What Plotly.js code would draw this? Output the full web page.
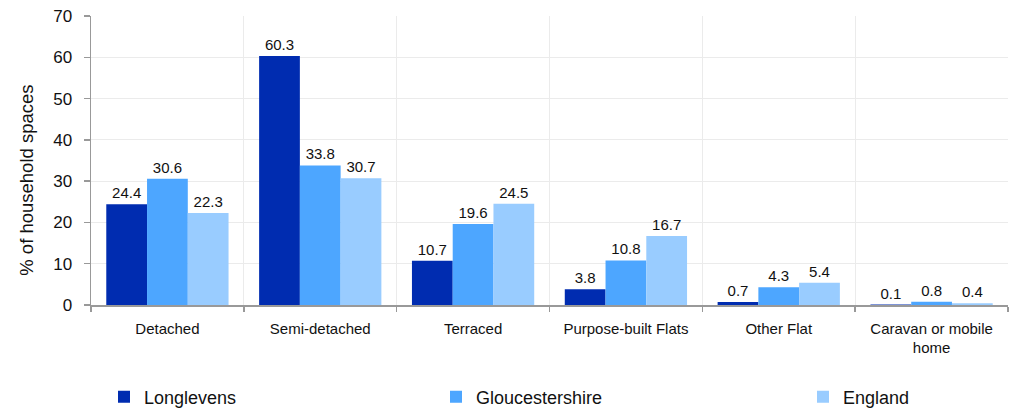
<!DOCTYPE html>
<html>
<head>
<meta charset="utf-8">
<script src="https://cdn.plot.ly/plotly-3.0.1.min.js"></script>
<style>html,body{margin:0;padding:0;background:#fff;}#chart{width:1012px;height:410px;}</style>
</head>
<body>
<div id="chart"></div>
<script>
const categories = ["Detached", "Semi-detached", "Terraced", "Purpose-built Flats", "Other Flat", "Caravan or mobile<br>home"];
const seriesNames = ["Longlevens", "Gloucestershire", "England"];
const longlevens = [24.4, 60.3, 10.7, 3.8, 0.7, 0.1];
const gloucestershire = [30.6, 33.8, 19.6, 10.8, 4.3, 0.8];
const england = [22.3, 30.7, 24.5, 16.7, 5.4, 0.4];
const yTicks = [0, 10, 20, 30, 40, 50, 60, 70];

const colors = ["#002CB0", "#4DA6FF", "#99CCFF"];
const values = [longlevens, gloucestershire, england];
const legendIds = ["legend", "legend2", "legend3"];
const font = "Liberation Sans, Arial, sans-serif";

const traces = values.map((v, i) => ({
  type: "bar",
  name: seriesNames[i],
  x: categories,
  y: v,
  marker: {color: colors[i]},
  text: v.map(d => d.toFixed(1)),
  textposition: "outside",
  textfont: {size: 15, color: "#111", family: font},
  cliponaxis: false,
  legend: legendIds[i],
  hoverinfo: "x+y+name"
}));

function leg(x) {
  return {
    xref: "container", yref: "container",
    x: x, y: 1 - 397 / 410, xanchor: "left", yanchor: "middle",
    orientation: "h", font: {size: 18, color: "#111", family: font},
    bgcolor: "rgba(0,0,0,0)", borderwidth: 0
  };
}

const layout = {
  width: 1012, height: 410,
  margin: {l: 91, r: 4, t: 16, b: 105},
  paper_bgcolor: "#fff", plot_bgcolor: "#fff",
  font: {family: font, color: "#111"},
  barmode: "group",
  bargap: 0.2, bargroupgap: 0,
  showlegend: true,
  legend: leg(104 / 1012),
  legend2: leg(436 / 1012),
  legend3: leg(803 / 1012),
  xaxis: {
    type: "category",
    tickson: "boundaries",
    ticks: "outside", ticklen: 5, tickcolor: "#999", tickwidth: 1.5,
    showline: true, linecolor: "#999", linewidth: 1.5,
    showgrid: true, gridcolor: "#ebebeb", gridwidth: 1,
    tickfont: {size: 15, color: "#111", family: font},
    ticklabelstandoff: 9
  },
  yaxis: {
    range: [0, 70],
    tickvals: yTicks,
    ticks: "outside", ticklen: 6, tickcolor: "#999", tickwidth: 1.5,
    showline: true, linecolor: "#999", linewidth: 1.5,
    showgrid: true, gridcolor: "#ebebeb", gridwidth: 1,
    zeroline: false,
    tickfont: {size: 17, color: "#111", family: font},
    ticklabelstandoff: 8
  },
  annotations: [{
    text: "% of household spaces",
    xref: "paper", yref: "paper",
    x: -64 / 917, y: 0.43, xanchor: "center", yanchor: "middle",
    textangle: -90, showarrow: false,
    font: {size: 18.5, color: "#111", family: font}
  }]
};

Plotly.newPlot("chart", traces, layout, {displayModeBar: false, staticPlot: true});
</script>
</body>
</html>
